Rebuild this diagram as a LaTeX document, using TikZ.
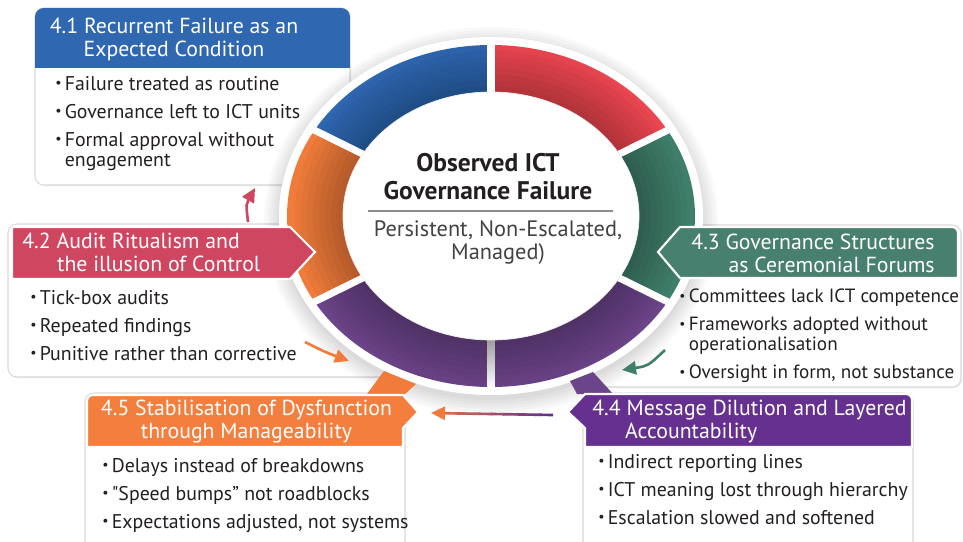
\documentclass[tikz,border=0pt]{standalone}
\usepackage{fontspec}
\setmainfont{PT Sans}
\usetikzlibrary{arrows.meta, calc, shadows}

\definecolor{segblue}{HTML}{2F67B1}
\definecolor{segred}{HTML}{EC4751}
\definecolor{seggreen}{HTML}{3F7E6B}
\definecolor{segpurple}{HTML}{6C4489}
\definecolor{segorange}{HTML}{F07B3A}
\definecolor{headcrimson}{HTML}{CF4660}
\definecolor{headgreen}{HTML}{47806E}
\definecolor{headpurple}{HTML}{65308F}
\definecolor{headorange}{HTML}{F47E3D}
\definecolor{ink}{HTML}{231F20}
\definecolor{cardline}{HTML}{DADADA}

% bullet and hanging indent for the lists
\newcommand{\blt}{\makebox[5.4pt][l]{\raisebox{0.25ex}{\scalebox{0.7}{\textbullet}}}}
\newcommand{\contd}{\hspace*{5.4pt}}
% one ring segment between two angles
\newcommand{\ringseg}[3]{%
  \fill[#1] ([shift={(c)}]#2:204 and 171)
    arc[start angle=#2, end angle=#3, x radius=204, y radius=171]
    -- ([shift={(c)}]#3:148 and 124)
    arc[start angle=#3, end angle=#2, x radius=148, y radius=124] -- cycle;}

\begin{document}
\begin{tikzpicture}[x=0.02cm, y=-0.02cm,
    card/.style={draw=cardline, fill=white, rounded corners=5pt, line width=0.6pt,
      drop shadow={opacity=0.12, shadow xshift=0.6pt, shadow yshift=-0.8pt}},
    head/.style={draw=white, line width=1.2pt},
    headtext/.style={text=white, inner sep=0pt, font=\fontsize{12.4}{13}\selectfont},
    points/.style={inner sep=0pt, align=left, anchor=north west, text=ink,
      font=\fontsize{11.3}{11.3}\selectfont},
    flow/.style={line width=1.5pt, -{Triangle[length=8pt, width=7.5pt]}}]

    \useasboundingbox (0,0) rectangle (963,541);
    \fill[white] (0,0) rectangle (963,541);
    \coordinate (c) at (491,216);

    % Cards
    \draw[card] (35,8) rectangle (350,185);
    \draw[card] (8,224) rectangle (400,377);
    \draw[card] (585,225) rectangle (961,387);
    \draw[card] (583,393) rectangle (913,570);
    \draw[card] (85,393) rectangle (405,570);

    % Ring: soft shadow and white halo
    \foreach \k in {0,...,5}
        \fill[black, opacity=0.025] ($(c)+(0,5)$) ellipse [x radius=212+\k*3, y radius=179+\k*3];
    \fill[white] (c) ellipse [x radius=212, y radius=179];

    % Ring segments
    \ringseg{segblue}{-150}{-90}
    \ringseg{segred}{-90}{-30}
    \ringseg{seggreen}{-30}{30}
    \ringseg{segpurple}{30}{90}
    \ringseg{segpurple}{90}{150}
    \ringseg{segorange}{150}{210}

    % darker towards the hub
    \begin{scope}
        \clip (c) ellipse [x radius=204, y radius=171];
        \foreach \k in {1,...,8}
            \fill[black, opacity=0.03] (c) ellipse [x radius=148+\k*6, y radius=124+\k*5.9];
    \end{scope}
    \foreach \a in {30,90,...,330}
        \draw[white, line width=4pt] ([shift={(c)}]\a:140 and 117) -- ([shift={(c)}]\a:209 and 176);
    \shade[top color=black!40, bottom color=white] (487.5,338) rectangle (494.5,388);

    % Hub
    \fill[white, draw=black!8] (c) ellipse [x radius=148, y radius=124];
    \node[font=\bfseries\fontsize{14.5}{15.9}\selectfont, align=center, text=ink] (title) at (488,177)
        {Observed ICT\\Governance Failure};
    \draw[black!45, line width=0.9pt] (368,211) -- (613,211);
    \node[font=\fontsize{12.7}{13}\selectfont, align=center, text=ink!85] (subtitle) at (498,242.5)
        {Persistent, Non-Escalated,\\Managed)};

    % Tabs towards the lower cards
    \fill[segorange] (384,371) -- (416,384) -- (405,394) -- (367,394) -- cycle;
    \fill[segpurple] (570,381) -- (593,372) -- (613,394) -- (577,394) -- cycle;

    % Headers
    \begin{scope}
        \clip[rounded corners=5pt] (35,8) rectangle (350,185);
        \fill[segblue] (35,8) rectangle (350,68);
    \end{scope}
    \filldraw[head, fill=headcrimson] (12,227) -- (290,227) -- (315,252) -- (290,279) -- (12,279) -- cycle;
    \filldraw[head, fill=headgreen] (658,252) -- (680,227) -- (952,227)
        arc[start angle=-90, end angle=0, radius=6] -- (958,278) -- (680,278) -- cycle;
    \filldraw[head, fill=headpurple] (568,412) -- (585,394) -- (906,394)
        arc[start angle=-90, end angle=0, radius=6] -- (912,447) -- (585,447) -- (585,428) -- cycle;
    \filldraw[head, fill=headorange] (87,447) -- (87,401)
        arc[start angle=180, end angle=270, radius=6] -- (403,395) -- (418,412) -- (403,428) -- (403,447) -- cycle;

    \node[headtext, align=center] (t41) at (174,39.5) {4.1 Recurrent Failure as an\\Expected Condition};
    \node[headtext, align=left, anchor=west] (t42) at (22,252.5)
        {4.2 Audit Ritualism and\\\hspace*{19.8pt}the illusion of Control};
    \node[headtext, align=right, anchor=east] (t43) at (935,253)
        {4.3 Governance Structures\\as Ceremonial Forums};
    \node[headtext, align=left, anchor=west] (t44) at (592,421.5)
        {4.4 Message Dilution and Layered\\\hspace*{18.7pt}Accountability};
    \node[headtext, align=center] (t45) at (246.5,421.5)
        {4.5 Stabilisation of Dysfunction\\through Manageability};

    % Lists
    \node[points] (l41) at (55,76) {\blt Failure treated as routine\\[4.6pt]
        \blt Governance left to ICT units\\[4.6pt]
        \blt Formal approval without\\\contd engagement};
    \node[points] (l42) at (30,290) {\blt Tick-box audits\\[4.6pt]
        \blt Repeated findings\\[4.6pt]
        \blt Punitive rather than corrective};
    \node[points, font=\fontsize{10.9}{11.3}\selectfont] (l43) at (679,289) {\blt Committees lack ICT competence\\[4.6pt]
        \blt Frameworks adopted without\\\contd operationalisation\\[4.6pt]
        \blt Oversight in form, not substance};
    \node[points] (l44) at (598,454) {\blt Indirect reporting lines\\[4.6pt]
        \blt ICT meaning lost through hierarchy\\[4.6pt]
        \blt Escalation slowed and softened};
    \node[points] (l45) at (102,458) {\blt Delays instead of breakdowns\\[4.6pt]
        \blt \textquotedbl Speed bumps” not roadblocks\\[4.6pt]
        \blt Expectations adjusted, not systems};

    % Arrows
    \coordinate (a1s) at (248,222);
    \coordinate (a1e) at (255,188);
    \coordinate (a2s) at (305,342);
    \coordinate (a2e) at (349,361);
    \coordinate (a3s) at (665,350);
    \coordinate (a3e) at (622,370);
    \coordinate (a4s) at (553,415);
    \coordinate (a4e) at (431,413);

    \draw[flow, headcrimson] (a1s) .. controls (246,204) .. (a1e);
    \draw[flow, segorange] (a2s) .. controls (325,352) .. (a2e);
    \draw[flow, seggreen] (a3s) .. controls (648,366) .. (a3e);
    \foreach \i [evaluate=\i as \p using int(100-10*\i)] in {0,...,8}
        \draw[line width=1.5pt, headpurple!\p!segorange] ($(a4s)!\i/10!(a4e)$) -- ($(a4s)!\i/10+0.11!(a4e)$);
    \draw[flow, segorange] ($(a4s)!0.9!(a4e)$) -- (a4e);

\end{tikzpicture}
\end{document}
